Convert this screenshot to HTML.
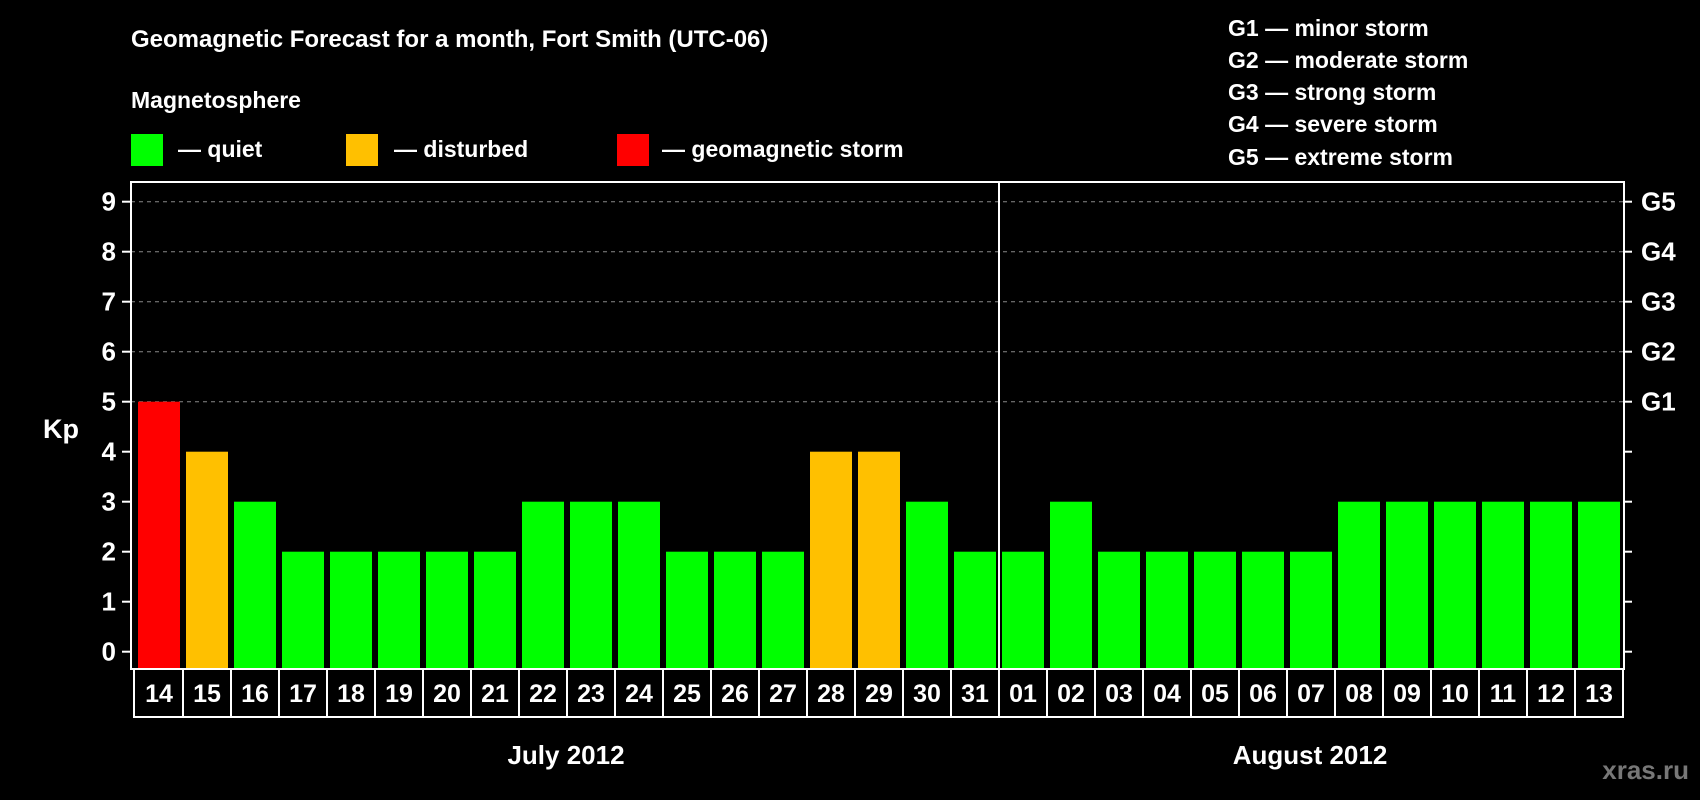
<!DOCTYPE html>
<html><head><meta charset="utf-8"><style>
html,body{margin:0;padding:0;background:#000;}
svg{display:block;font-family:"Liberation Sans",Arial,sans-serif;font-weight:bold;}
</style></head><body>
<svg id="chart" width="1700" height="800" viewBox="0 0 1700 800" xmlns="http://www.w3.org/2000/svg">
<rect x="0" y="0" width="1700" height="800" fill="#000"/>
<text x="131" y="47" fill="#fff" font-size="24">Geomagnetic Forecast for a month, Fort Smith (UTC-06)</text>
<text x="131" y="108" fill="#fff" font-size="23">Magnetosphere</text>
<g><rect x="131" y="134" width="32" height="32" fill="#00ff00"/><text x="178" y="157" fill="#fff" font-size="23">— quiet</text></g>
<g><rect x="346" y="134" width="32" height="32" fill="#ffc000"/><text x="394" y="157" fill="#fff" font-size="23">— disturbed</text></g>
<g><rect x="617" y="134" width="32" height="32" fill="#ff0000"/><text x="662" y="157" fill="#fff" font-size="23">— geomagnetic storm</text></g>
<g fill="#fff" font-size="23">
<text x="1228" y="36">G1 — minor storm</text>
<text x="1228" y="68">G2 — moderate storm</text>
<text x="1228" y="100">G3 — strong storm</text>
<text x="1228" y="132">G4 — severe storm</text>
<text x="1228" y="165">G5 — extreme storm</text>
</g>
<text x="43" y="438" fill="#fff" font-size="27">Kp</text>
<g id="grid"></g>
<g id="bars"></g>
<g id="axes"></g>
<text x="566" y="764" fill="#fff" font-size="26" text-anchor="middle">July 2012</text>
<text x="1310" y="764" fill="#fff" font-size="26" text-anchor="middle">August 2012</text>
<text x="1689" y="779" fill="#777" font-size="26" text-anchor="end">xras.ru</text>
</svg>
<script>
const days = ["14","15","16","17","18","19","20","21","22","23","24","25","26","27","28","29","30","31","01","02","03","04","05","06","07","08","09","10","11","12","13"];
const kpValues = [5,4,3,2,2,2,2,2,3,3,3,2,2,2,4,4,3,2,2,3,2,2,2,2,2,3,3,3,3,3,3];
const yTicks = [0,1,2,3,4,5,6,7,8,9];
const gLabels = ["G1","G2","G3","G4","G5"];
const gLevels = [5,6,7,8,9];
const monthBreakIndex = 18;

const NS = "http://www.w3.org/2000/svg";
const plotL = 131, plotR = 1624, plotT = 182, plotB = 669;
const x0 = 138, step = 48, barW = 42;
function yScale(v){ return 651.7 - 50 * v; }
function xScale(i){ return x0 + i * step; }
function mk(tag, attrs, parent){ const e = document.createElementNS(NS, tag); for (const k in attrs) e.setAttribute(k, attrs[k]); parent.appendChild(e); return e; }
function colorFor(v){ return v >= 5 ? "#ff0000" : (v >= 4 ? "#ffc000" : "#00ff00"); }

const grid = document.getElementById("grid");
gLevels.forEach((lv, i) => {
  const l = mk("line", {x1: plotL, x2: plotR, y1: yScale(lv), y2: yScale(lv), stroke: "#888", "stroke-width": 1, "stroke-dasharray": "4,4"}, grid);
  
  
});

const bars = document.getElementById("bars");
kpValues.forEach((v, i) => {
  const r = mk("rect", {x: xScale(i), y: yScale(v), width: barW, height: yScale(0) + 17 - yScale(v), fill: colorFor(v)}, bars);
  
  
});

const axes = document.getElementById("axes");
const frame = mk("rect", {x: plotL, y: plotT, width: plotR - plotL, height: plotB - plotT, fill: "none", stroke: "#fff", "stroke-width": 2}, axes);


const divX = xScale(monthBreakIndex) - 3;
const div = mk("line", {x1: divX, x2: divX, y1: plotT, y2: plotB, stroke: "#fff", "stroke-width": 2}, axes);



yTicks.forEach(t => {
  const y = yScale(t);
  mk("line", {x1: 122, x2: plotL, y1: y, y2: y, stroke: "#fff", "stroke-width": 2}, axes);
  mk("line", {x1: plotR, x2: plotR + 8, y1: y, y2: y, stroke: "#fff", "stroke-width": 2}, axes);
  const tx = mk("text", {x: 116, y: y + 9, fill: "#fff", "font-size": 26, "text-anchor": "end"}, axes);
  tx.textContent = t;
  
  
});
gLabels.forEach((g, i) => {
  const tx = mk("text", {x: 1641, y: yScale(gLevels[i]) + 9, fill: "#fff", "font-size": 26}, axes);
  tx.textContent = g;
  
  
});

// date label row
const rowT = 669, rowB = 717;
const rowFrame = mk("rect", {x: 134, y: rowT, width: plotR - 1 - 134, height: rowB - rowT, fill: "#000", stroke: "#fff", "stroke-width": 2}, axes);


days.forEach((d, i) => {
  if (i > 0) mk("line", {x1: xScale(i) - 3, x2: xScale(i) - 3, y1: rowT, y2: rowB, stroke: "#fff", "stroke-width": 2}, axes);
  const tx = mk("text", {x: xScale(i) + barW / 2, y: rowT + 33, fill: "#fff", "font-size": 25, "text-anchor": "middle"}, axes);
  tx.textContent = d;
  
  
});
</script>
</body></html>
